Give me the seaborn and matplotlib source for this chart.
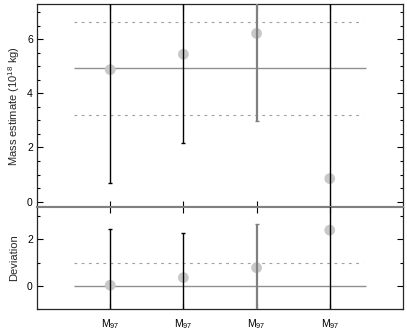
import numpy as np
import pandas as pd
import matplotlib
matplotlib.use("Agg")
import matplotlib.pyplot as plt
import seaborn as sns

# values
pos = [1, 2, 3, 4]
tick_labels = ["M$_{97}$", "M$_{97}$", "M$_{97}$", "M$_{97}$"]
mass = [4.88, 5.45, 6.22, 0.85]
mass_lo = [0.68, 2.17, 2.97, -2.0]
mass_hi = [9.0, 9.0, 9.0, 9.0]
mass_mean = 4.93
mass_band = [3.21, 6.64]
dev = [0.02, 0.35, 0.78, 2.40]
dev_lo = [-2.0, -2.0, -2.0, -2.0]
dev_hi = [2.46, 2.26, 2.66, 5.0]
dev_ref = 0.0
dev_band = 1.0
bar_colors = ["black", "black", "#808080", "black"]

sns.set_style("ticks")
plt.rcParams["font.family"] = ["Liberation Sans", "DejaVu Sans"]
plt.rcParams["font.size"] = 7
plt.rcParams["mathtext.fontset"] = "custom"
plt.rcParams["mathtext.rm"] = "Liberation Sans"
plt.rcParams["mathtext.it"] = "Liberation Sans"

fig = plt.figure(figsize=(4.07, 3.30), dpi=100)
ax1 = fig.add_axes([0.091, 0.372, 0.899, 0.616])
ax2 = fig.add_axes([0.091, 0.064, 0.899, 0.308])

df = pd.DataFrame({"pos": pos, "mass": mass, "dev": dev})


def draw(ax, col, lo, hi, ref, band):
    ax.hlines(ref, 0.5, 4.5, color="#909090", lw=1.0, zorder=1)
    for b in band:
        ax.hlines(b, 0.5, 4.45, color="#a0a0a0", lw=0.8, ls=(0, (2.5, 4)), zorder=1)
    for p, v, l, h, c in zip(pos, df[col], lo, hi, bar_colors):
        ax.errorbar(p, v, yerr=[[v - l], [h - v]], fmt="none", ecolor=c,
                    elinewidth=1.6 if c != "black" else 1.0, capsize=1.5,
                    capthick=1.0, zorder=3)
    sns.scatterplot(data=df, x="pos", y=col, ax=ax, s=60, color="#c8c8c8",
                    edgecolor="none", zorder=2, legend=False)


draw(ax1, "mass", mass_lo, mass_hi, mass_mean, mass_band)
draw(ax2, "dev", dev_lo, dev_hi, dev_ref, [dev_band])

for ax in (ax1, ax2):
    ax.set_xlim(0, 5)
    ax.set_xticks(pos)
    ax.tick_params(which="both", direction="in", top=True, right=True,
                   width=0.8, colors="black", labelsize=7.5, pad=3)
    ax.tick_params(which="major", length=4)
    ax.tick_params(which="minor", length=2)
    ax.set_xlabel("")
    for s in ax.spines.values():
        s.set_linewidth(0.9)

ax1.set_ylim(-0.21, 7.31)
ax1.set_yticks([0, 2, 4, 6])
ax1.set_yticks(np.arange(-0.0, 7.4, 0.5), minor=True)
ax1.set_xticklabels([])
ax1.set_ylabel("Mass estimate (10$^{18}$ kg)", fontsize=8)
ax1.spines["bottom"].set_color("#808080")
ax1.spines["bottom"].set_linewidth(1.5)

ax2.set_ylim(-1.0, 3.39)
ax2.set_yticks([0, 2])
ax2.set_yticks([-1, 1, 3], minor=True)
ax2.set_xticklabels(tick_labels, fontsize=7.5)
ax2.tick_params(axis="x", pad=6)
ax2.set_ylabel("Deviation", fontsize=8)
ax2.spines["top"].set_color("#808080")
ax2.spines["top"].set_linewidth(1.5)
ax1.yaxis.set_label_coords(-0.042, 0.5)
ax2.yaxis.set_label_coords(-0.05, 0.5)

fig.savefig("out.png", dpi=100)
